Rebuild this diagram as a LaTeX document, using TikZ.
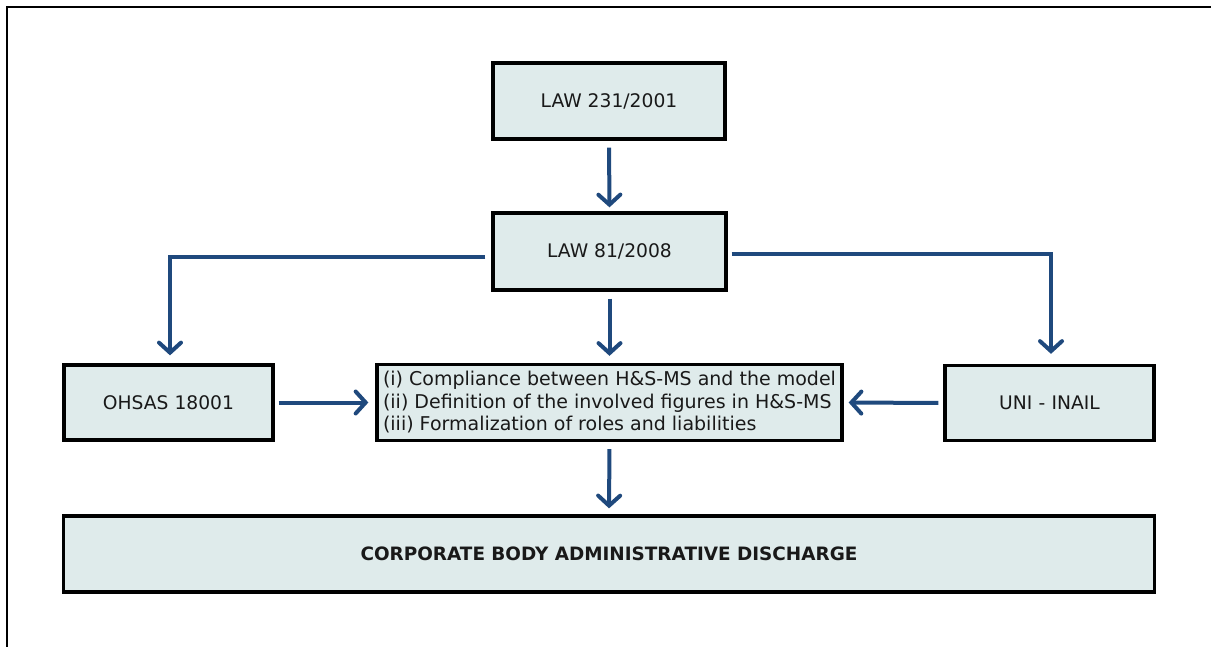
\documentclass[tikz,border=0pt]{standalone}
\usepackage{fontspec}
\setmainfont{DejaVu Sans}
\usetikzlibrary{arrows.meta}
\definecolor{boxfill}{RGB}{223,235,235}
\definecolor{arrowblue}{RGB}{31,73,125}
\tikzset{
  box/.style={draw=black, line width=3.3pt, fill=boxfill, rectangle, inner sep=0pt,
    font=\fontsize{18.7}{22.5}\selectfont, text=black!90},
  conn/.style={draw=arrowblue, line width=4pt,
    -{Straight Barb[length=10pt,width=22pt,line width=4pt,line cap=round]}},
}
\begin{document}
\begin{tikzpicture}[x=1pt,y=-1pt]
\useasboundingbox (0,0) rectangle (1211,647);
% outer frame (top and left edges only)
\draw[line width=2pt] (7,647) -- (7,7) -- (1211,7);

\node[box, minimum width=232pt, minimum height=76pt] (law231) at (609,101) {LAW 231/2001};
\node[box, minimum width=233pt, minimum height=77pt] (law81) at (609.5,251.5) {LAW 81/2008};
\node[box, minimum width=209pt, minimum height=75pt] (ohsas) at (168.5,402.5) {OHSAS 18001};
\node[box, minimum width=465pt, minimum height=76pt, align=left,
  font=\fontsize{19.0}{22.5}\selectfont] (mid) at (609.5,402.5)
  {(i) Compliance between H\&S-MS and the model\\
   (ii) Definition of the involved figures in H\&S-MS\\
   (iii) Formalization of roles and liabilities};
\node[box, minimum width=209pt, minimum height=75pt] (uni) at (1049.5,403) {UNI\,\,-\,\,INAIL};
\node[box, minimum width=1091pt, minimum height=76pt, font=\fontsize{18.4}{22}\selectfont\bfseries] (corp) at (609,554) {CORPORATE BODY ADMINISTRATIVE DISCHARGE};

\coordinate (lstart) at ([xshift=-6pt]law81.west |- 0,257);
\coordinate (rstart) at ([xshift=4pt]law81.east |- 0,254);

\draw[conn, shorten <=7pt, shorten >=4pt] (law231.south) -- (law81.north);
\draw[conn, shorten >=8pt] (lstart) -| ([xshift=1.5pt]ohsas.north);
\draw[conn, shorten >=10pt] (rstart) -| ([xshift=1.5pt]uni.north);
\draw[conn, shorten <=7pt, shorten >=7pt] (law81.south) -- (mid.north);
\draw[conn, shorten <=4pt, shorten >=7pt] (ohsas.east) -- (mid.west);
\draw[conn, shorten <=5pt, shorten >=5pt] (uni.west) -- (mid.east);
\draw[conn, shorten <=7pt, shorten >=6pt] (mid.south) -- (corp.north);
\end{tikzpicture}
\end{document}
